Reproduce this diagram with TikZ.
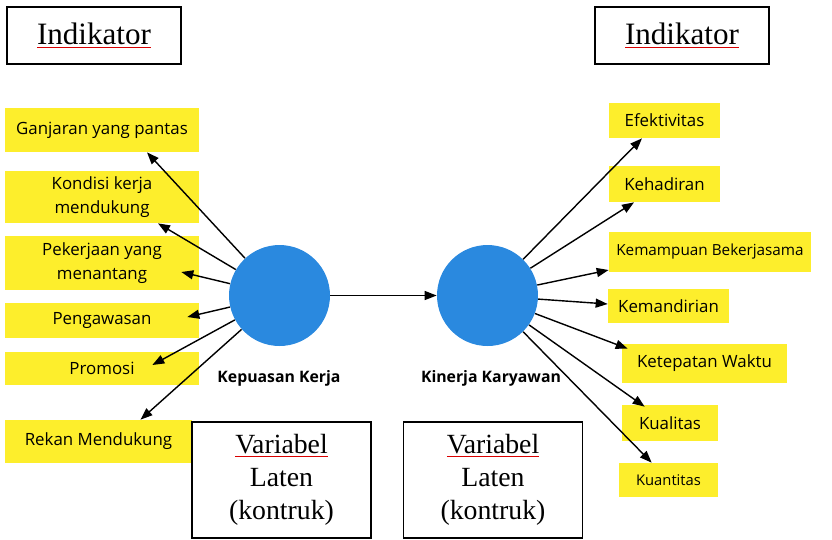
\documentclass[tikz,border=0pt]{standalone}
\usepackage{fontspec}
\setsansfont{Open Sans}
\newfontfamily\serifjudul{Liberation Serif}
\usepackage{xcolor}
\usepackage{tikz}
\usetikzlibrary{arrows.meta,positioning,calc}
\definecolor{kuning}{HTML}{FDEE2C}
\definecolor{biru}{HTML}{2A89DF}
\newcommand{\salahketik}[1]{{\color{red!85!black}\underline{\color{black}#1}}}
\tikzstyle{header} = [rectangle, draw=black, line width=1pt, minimum width=3.48cm, minimum height=1.14cm, text centered, font=\serifjudul\fontsize{17.7}{20}\selectfont]
\tikzstyle{latent} = [rectangle, draw=black, line width=1pt, minimum width=3.58cm, minimum height=2.32cm, align=center, font=\serifjudul\fontsize{15.8}{18.7}\selectfont]
\tikzstyle{indikator} = [rectangle, fill=kuning, inner sep=0pt, align=center, font=\sffamily\fontsize{9.6}{13.5}\selectfont]
\tikzstyle{konstruk} = [circle, fill=biru, minimum size=2.02cm, inner sep=0pt]
\tikzstyle{label} = [font=\sffamily\bfseries\fontsize{9}{11}\selectfont]
\tikzstyle{arrow} = [line width=0.8pt, -{Triangle[length=2.4mm,width=1.8mm]}]

\begin{document}
\begin{tikzpicture}[x=0.02cm, y=-0.02cm]
\useasboundingbox (0,0) rectangle (832,539);

% Judul
\node (indL) [header] at (94,35.5) {\salahketik{Indikator}};
\node (indR) [header] at (682,35.5) {\salahketik{Indikator}};

% Variabel laten
\node (kps) [konstruk] at (279.5,295.5) {};
\node (kin) [konstruk] at (487.5,295.5) {};
\node (lblKps) [label] at (279,378) {Kepuasan Kerja};
\node (lblKin) [label] at (491,378) {Kinerja Karyawan};

% Indikator kiri
\node (gan) [indikator, minimum width=3.88cm, minimum height=0.88cm] at (102,130) {Ganjaran yang pantas};
\node (kon) [indikator, minimum width=3.88cm, minimum height=1.04cm] at (102,197) {Kondisi kerja\\mendukung};
\node (pek) [indikator, minimum width=3.88cm, minimum height=1.08cm] at (102,263) {Pekerjaan yang\\menantang};
\node (pen) [indikator, minimum width=3.88cm, minimum height=0.70cm] at (102,320.5) {Pengawasan};
\node (pro) [indikator, minimum width=3.88cm, minimum height=0.66cm] at (102,368.5) {Promosi};
\node (rek) [indikator, minimum width=3.74cm, minimum height=0.86cm] at (98.5,441.5) {Rekan Mendukung};

% Indikator kanan
\node (efe) [indikator, minimum width=2.22cm, minimum height=0.70cm] at (664.5,120.5) {Efektivitas};
\node (keh) [indikator, minimum width=2.22cm, minimum height=0.72cm] at (664.5,184) {Kehadiran};
\node (kem) [indikator, minimum width=4.04cm, minimum height=0.80cm, font=\sffamily\fontsize{8.7}{11}\selectfont] at (710,252) {Kemampuan Bekerjasama};
\node (kmd) [indikator, minimum width=2.42cm, minimum height=0.68cm] at (668.5,306) {Kemandirian};
\node (ket) [indikator, minimum width=3.30cm, minimum height=0.78cm] at (704.5,363.5) {Ketepatan Waktu};
\node (kua) [indikator, minimum width=1.92cm, minimum height=0.72cm] at (670,423) {Kualitas};
\node (kun) [indikator, minimum width=1.98cm, minimum height=0.68cm, font=\sffamily\fontsize{8.4}{11}\selectfont] at (668.5,480) {Kuantitas};

% Kotak keterangan
\node (varL) [latent] at (281.5,480) {\salahketik{Variabel}\\Laten\\(kontruk)};
\node (varR) [latent] at (493,480) {\salahketik{Variabel}\\Laten\\(kontruk)};

% Panah
\draw [arrow] (kps) -- (kin);
\draw [arrow] (kps) -- ($(gan.south)+(45,0)$);
\draw [arrow] (kps) -- ($(kon.south)+(56,0)$);
\draw [arrow] (kps) -- ($(pek.east)+(-18,9)$);
\draw [arrow] (kps) -- ($(pen.east)+(-12,-3.5)$);
\draw [arrow] (kps) -- ($(pro.east)+(-47,-3.5)$);
\draw [arrow] (kps) -- ($(rek.north)+(42,0)$);
\draw [arrow] (kin) -- ($(efe.south)+(-22.5,0)$);
\draw [arrow] (kin) -- ($(keh.south)+(-30.5,0)$);
\draw [arrow] (kin) -- ($(kem.west)+(0,18)$);
\draw [arrow] (kin) -- ($(kmd.west)+(0,-2)$);
\draw [arrow] (kin) -- ($(ket.north west)+(6,5)$);
\draw [arrow] (kin) -- ($(kua.north west)+(23,2)$);
\draw [arrow] (kin) -- ($(kun.north west)+(33,0)$);

\end{tikzpicture}
\end{document}
